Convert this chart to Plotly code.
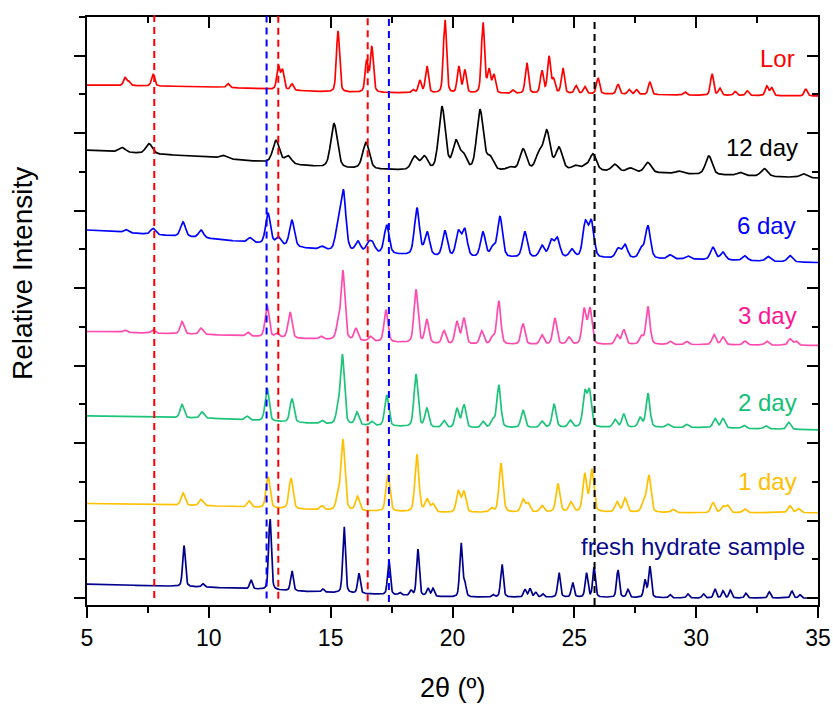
import numpy as np
import plotly.graph_objects as go

# ---------------------------------------------------------------
# Powder XRD patterns, stacked by sample (offset intensities)
# ---------------------------------------------------------------
TWO_THETA = np.round(np.arange(5.0, 35.0001, 0.02), 3)

# baseline level of each trace, sampled at these 2θ positions
BASE_X = [5, 10, 15, 20, 25, 30, 35]

# --- Lor (reference) ---
LOR_BASE = [6.62, 6.60, 6.53, 6.51, 6.51, 6.49, 6.48]
LOR_POS = [6.56, 6.72, 7.71, 10.79, 12.85, 13.02, 13.41, 15.30, 16.48, 16.69,
           18.38, 18.66, 18.95, 19.69, 20.26, 20.51, 21.25, 21.50, 21.70, 22.48,
           23.05, 23.67, 23.96, 24.15, 24.53, 25.07, 25.43, 25.97, 26.79, 27.25,
           27.55, 28.10, 29.54, 30.65, 30.97, 31.60, 32.10, 32.90, 33.10, 34.50]
LOR_HEIGHT = [0.10, 0.05, 0.16, 0.05, 0.30, 0.25, 0.08, 0.79, 0.40, 0.58,
              0.04, 0.16, 0.35, 0.96, 0.34, 0.29, 0.92, 0.29, 0.23, 0.04,
              0.40, 0.29, 0.47, 0.17, 0.33, 0.10, 0.09, 0.21, 0.13, 0.06,
              0.06, 0.16, 0.04, 0.28, 0.09, 0.05, 0.06, 0.12, 0.10, 0.09]
LOR_FWHM = 0.15

# --- 12 day ---
D12_BASE = [5.78, 5.69, 5.55, 5.50, 5.52, 5.47, 5.42]
D12_POS = [6.44, 7.55, 10.58, 12.76, 13.25, 15.14, 16.45, 18.45, 18.85, 19.57,
           20.14, 20.45, 21.13, 21.54, 22.36, 22.90, 23.55, 23.87, 24.37, 25.05,
           25.45, 25.77, 26.67, 27.30, 28.02, 29.30, 30.52, 31.80, 32.80, 34.40]
D12_HEIGHT = [0.06, 0.13, 0.04, 0.29, 0.10, 0.57, 0.34, 0.17, 0.17, 0.82,
              0.36, 0.18, 0.78, 0.16, 0.04, 0.27, 0.20, 0.49, 0.28, 0.05,
              0.05, 0.21, 0.09, 0.05, 0.13, 0.03, 0.24, 0.04, 0.10, 0.05]
D12_FWHM = 0.32

# --- 6 day ---
D6_BASE = [4.75, 4.64, 4.48, 4.39, 4.39, 4.37, 4.33]
D6_POS = [6.60, 7.71, 8.94, 9.68, 11.69, 12.43, 12.85, 13.41, 14.64, 15.30,
          15.52, 16.12, 16.55, 16.72, 17.30, 18.54, 18.96, 19.69, 20.24, 20.50,
          21.25, 21.66, 21.95, 22.97, 23.67, 24.05, 24.30, 24.90, 25.45, 25.70,
          26.80, 27.08, 27.75, 28.02, 28.93, 29.66, 30.69, 31.10, 32.00, 32.95,
          33.85]
D6_HEIGHT = [0.04, 0.08, 0.19, 0.10, 0.06, 0.40, 0.10, 0.34, 0.04, 0.30,
             0.76, 0.13, 0.11, 0.11, 0.37, 0.61, 0.30, 0.33, 0.32, 0.35,
             0.32, 0.12, 0.52, 0.33, 0.15, 0.21, 0.24, 0.10, 0.44, 0.45,
             0.12, 0.17, 0.12, 0.42, 0.05, 0.04, 0.16, 0.10, 0.06, 0.06,
             0.08]
D6_FWHM = 0.24

# --- 3 day ---
D3_BASE = [3.44, 3.40, 3.33, 3.27, 3.27, 3.27, 3.26]
D3_POS = [6.56, 7.71, 8.90, 9.68, 11.60, 12.39, 12.80, 13.33, 14.60, 15.30,
          15.50, 16.04, 16.64, 17.27, 18.50, 18.95, 19.65, 20.18, 20.47, 21.20,
          21.65, 21.90, 22.89, 23.67, 24.20, 24.78, 25.40, 25.64, 26.75, 27.03,
          27.75, 28.02, 28.93, 29.62, 30.73, 31.10, 32.00, 32.90, 33.85, 34.10]
D3_HEIGHT = [0.03, 0.04, 0.16, 0.08, 0.05, 0.41, 0.05, 0.34, 0.04, 0.17,
             0.89, 0.15, 0.06, 0.41, 0.69, 0.30, 0.17, 0.29, 0.33, 0.17,
             0.09, 0.56, 0.27, 0.12, 0.34, 0.09, 0.45, 0.46, 0.12, 0.19,
             0.10, 0.49, 0.04, 0.04, 0.13, 0.10, 0.05, 0.05, 0.08, 0.05]
D3_FWHM = 0.19

# --- 2 day ---
D2_BASE = [2.35, 2.32, 2.24, 2.19, 2.20, 2.20, 2.17]
D2_POS = [8.90, 9.72, 11.57, 12.39, 13.41, 14.64, 15.30, 15.48, 16.08, 16.69,
          17.30, 18.50, 18.95, 19.65, 20.18, 20.47, 21.25, 21.65, 21.90, 22.89,
          23.67, 24.17, 24.83, 25.43, 25.62, 26.67, 27.03, 27.70, 28.02, 28.84,
          29.62, 30.77, 31.10, 31.96, 32.86, 33.80]
D2_HEIGHT = [0.17, 0.08, 0.05, 0.43, 0.31, 0.04, 0.17, 0.89, 0.16, 0.05,
             0.40, 0.68, 0.24, 0.09, 0.25, 0.30, 0.08, 0.10, 0.55, 0.23,
             0.08, 0.30, 0.09, 0.44, 0.45, 0.10, 0.17, 0.12, 0.44, 0.04,
             0.04, 0.12, 0.12, 0.04, 0.04, 0.09]
D2_FWHM = 0.19

# --- 1 day ---
D1_BASE = [1.22, 1.19, 1.13, 1.10, 1.11, 1.10, 1.10]
D1_POS = [8.94, 9.68, 11.65, 12.43, 13.37, 14.64, 15.30, 15.50, 16.10, 17.35,
          18.54, 18.95, 19.20, 20.24, 20.47, 21.60, 21.99, 22.89, 23.10, 23.67,
          24.33, 24.86, 25.43, 25.72, 26.75, 27.08, 27.85, 28.06, 29.05, 30.69,
          31.10, 31.30, 32.00, 33.85, 34.20]
D1_HEIGHT = [0.16, 0.08, 0.08, 0.41, 0.40, 0.05, 0.16, 0.91, 0.18, 0.48,
             0.74, 0.16, 0.10, 0.27, 0.26, 0.05, 0.63, 0.16, 0.11, 0.08,
             0.36, 0.12, 0.48, 0.54, 0.13, 0.18, 0.15, 0.47, 0.04, 0.13,
             0.08, 0.09, 0.05, 0.09, 0.05]
D1_FWHM = 0.19

# --- fresh hydrate sample ---
FR_BASE = [0.18, 0.14, 0.07, 0.01, 0.01, 0.00, 0.00]
FR_POS = [8.98, 9.76, 11.73, 12.51, 13.41, 14.68, 15.55, 16.16, 17.39, 17.84,
          18.30, 18.58, 18.99, 19.20, 20.35, 20.50, 21.66, 22.03, 22.97, 23.18,
          23.42, 23.71, 24.37, 24.93, 25.50, 25.81, 26.79, 27.20, 27.90, 28.10,
          28.93, 29.66, 30.30, 30.77, 31.10, 31.40, 32.04, 33.00, 33.93, 34.26]
FR_HEIGHT = [0.53, 0.04, 0.12, 0.93, 0.26, 0.04, 0.87, 0.26, 0.45, 0.03,
             0.06, 0.60, 0.10, 0.10, 0.70, 0.17, 0.03, 0.43, 0.10, 0.11,
             0.06, 0.04, 0.32, 0.19, 0.31, 0.38, 0.36, 0.10, 0.22, 0.40,
             0.04, 0.05, 0.05, 0.12, 0.09, 0.10, 0.06, 0.08, 0.09, 0.04]
FR_FWHM = 0.13

SERIES = [
    ("Lor", LOR_BASE, LOR_POS, LOR_HEIGHT, LOR_FWHM, "#FF0000", "#FF0000"),
    ("12 day", D12_BASE, D12_POS, D12_HEIGHT, D12_FWHM, "#000000", "#000000"),
    ("6 day", D6_BASE, D6_POS, D6_HEIGHT, D6_FWHM, "#0000FF", "#0000FF"),
    ("3 day", D3_BASE, D3_POS, D3_HEIGHT, D3_FWHM, "#FF4AAE", "#FF1493"),
    ("2 day", D2_BASE, D2_POS, D2_HEIGHT, D2_FWHM, "#1CC47A", "#14C075"),
    ("1 day", D1_BASE, D1_POS, D1_HEIGHT, D1_FWHM, "#FFC000", "#FFC000"),
    ("fresh hydrate sample", FR_BASE, FR_POS, FR_HEIGHT, FR_FWHM, "#00008B", "#0A0A8C"),
]

# label anchor (right edge, vertical centre) for each trace
LABEL_X = [34.13, 34.26, 34.18, 34.22, 34.22, 34.22, 34.54]
LABEL_Y = [6.97, 5.81, 4.81, 3.65, 2.52, 1.51, 0.67]

# marker lines: 2θ position, colour, top (paper), bottom (axis units)
MARK_POS = [7.76, 12.37, 12.85, 16.52, 17.39, 25.83]
MARK_COLOR = ["#FF0000", "#0000FF", "#FF0000", "#FF0000", "#0000FF", "#000000"]
MARK_TOP = [1.010, 1.010, 1.010, 1.004, 1.000, 0.995]
MARK_BOTTOM = [0.0, -0.005, -0.01, -0.04, -0.05, -0.09]


def pattern(base, pos, height, fwhm, eta=0.35):
    y = np.interp(TWO_THETA, BASE_X, base)
    hw = fwhm / 2.0
    for p, h in zip(pos, height):
        u = (TWO_THETA - p) / hw
        y = y + h * (eta / (1.0 + u * u) + (1 - eta) * np.exp(-np.log(2) * u * u))
    return y


FONT = "Arial, 'Liberation Sans', sans-serif"
fig = go.Figure()

for name, base, pos, height, fwhm, lc, tc in SERIES:
    fig.add_trace(go.Scatter(
        x=TWO_THETA, y=pattern(base, pos, height, fwhm), mode="lines",
        line=dict(color=lc, width=1.7), name=name, showlegend=False,
        hoverinfo="skip"))

# empty trace so the mirrored top/right axes are drawn
fig.add_trace(go.Scatter(x=[], y=[], xaxis="x2", yaxis="y2", showlegend=False,
                         hoverinfo="skip"))

for (name, *_rest, tc), lx, ly in zip(SERIES, LABEL_X, LABEL_Y):
    fig.add_annotation(x=lx, y=ly, xref="x", yref="y", text=name,
                       showarrow=False, xanchor="right", yanchor="middle",
                       font=dict(family=FONT, size=24, color=tc))

for xp, c, top, bot in zip(MARK_POS, MARK_COLOR, MARK_TOP, MARK_BOTTOM):
    fig.add_shape(type="line", xref="x", yref="paper", x0=xp, x1=xp,
                  y0=(bot + 0.09) / 7.59, y1=top,
                  line=dict(color=c, width=2, dash="7px,5px"))

axis_common = dict(showline=True, linecolor="black", linewidth=2,
                   showgrid=False, zeroline=False, tickcolor="black",
                   tickwidth=2, ticklen=11, automargin=False)

fig.update_layout(
    template="none",
    width=833, height=706,
    margin=dict(l=87, r=15, t=17, b=101, autoexpand=False),
    paper_bgcolor="white", plot_bgcolor="white",
    font=dict(family=FONT, color="black"),
    xaxis=dict(range=[5, 35], dtick=5, tick0=5, ticks="outside",
               tickfont=dict(size=23, family=FONT),
               minor=dict(dtick=2.5, ticks="outside", ticklen=6,
                          tickwidth=2, tickcolor="black"),
               **axis_common),
    xaxis2=dict(range=[5, 35], dtick=5, tick0=5, ticks="inside",
                overlaying="x", side="top", anchor="y", showticklabels=False,
                minor=dict(dtick=2.5, ticks="inside", ticklen=6,
                           tickwidth=2, tickcolor="black"),
                **axis_common),
    yaxis=dict(range=[-0.09, 7.5], dtick=1, tick0=0, ticks="outside",
               showticklabels=False,
               minor=dict(dtick=0.5, ticks="outside", ticklen=6,
                          tickwidth=2, tickcolor="black"),
               **axis_common),
    yaxis2=dict(range=[-0.09, 7.5], dtick=1, tick0=0, ticks="inside",
                overlaying="y", side="right", anchor="x",
                showticklabels=False,
                minor=dict(dtick=0.5, ticks="inside", ticklen=6,
                           tickwidth=2, tickcolor="black"),
                **axis_common),
)

fig.add_annotation(text="Relative Intensity", xref="paper", yref="paper",
                   x=-0.0875, y=0.563, textangle=-90, showarrow=False,
                   xanchor="center", yanchor="middle",
                   font=dict(family=FONT, size=28, color="black"))
fig.add_annotation(text="2θ (º)", xref="paper", yref="paper",
                   x=0.5, y=-0.141, showarrow=False,
                   xanchor="center", yanchor="middle",
                   font=dict(family=FONT, size=27, color="black"))

fig.write_html("out.html")
